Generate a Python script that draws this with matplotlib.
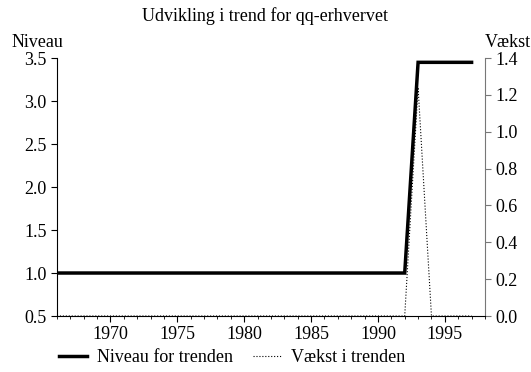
import matplotlib
matplotlib.use("Agg")
import matplotlib.pyplot as plt
from matplotlib.ticker import MultipleLocator

plt.rcParams['font.family'] = ['Liberation Serif', 'DejaVu Serif']

# trend level and its (log) growth per year
years = list(range(1966, 1998))
niveau = [1.0] * 27 + [3.45] * 5
vaekst = [0.0] * 27 + [1.24, 0.0, 0.0, 0.0, 0.0]

fig = plt.figure(figsize=(5.31, 3.72), dpi=100)
ax = fig.add_axes([0.1073, 0.1505, 0.806, 0.6935])
ax2 = ax.twinx()

l1, = ax.plot(years, niveau, color='black', lw=2.5, solid_joinstyle='miter', zorder=3)
l2, = ax2.plot(years, vaekst, color='black', lw=0.8, ls=':')
ax.set_zorder(ax2.get_zorder() + 1)
ax.patch.set_visible(False)

ax.set_xlim(1966, 1998)
ax.set_ylim(0.5, 3.5)
ax2.set_ylim(0.0, 1.4)
ax.xaxis.set_major_locator(MultipleLocator(5))
ax.xaxis.set_minor_locator(MultipleLocator(1))
ax.yaxis.set_major_locator(MultipleLocator(0.5))
ax2.yaxis.set_major_locator(MultipleLocator(0.2))
ax.yaxis.set_major_formatter(plt.FormatStrFormatter('%.1f'))
ax2.yaxis.set_major_formatter(plt.FormatStrFormatter('%.1f'))

for a in (ax, ax2):
    a.spines['top'].set_visible(False)
ax.spines['right'].set_visible(False)
ax2.spines['left'].set_visible(False)
ax2.spines['bottom'].set_visible(False)
ax2.spines['right'].set_color('#777777')

ax.tick_params(axis='both', which='major', labelsize=13, length=4, width=0.8, direction='out')
ax.tick_params(axis='x', which='minor', length=2, width=0.6)
ax2.tick_params(axis='y', labelsize=13, length=4, width=0.8, color='#777777')

fig.text(0.5, 0.958, 'Udvikling i trend for qq-erhvervet', ha='center', va='center', fontsize=13)
fig.text(0.022, 0.885, 'Niveau', ha='left', va='center', fontsize=13)
fig.text(1.0, 0.885, 'Vækst', ha='right', va='center', fontsize=13)

fig.legend([l1, l2], ['Niveau for trenden', 'Vækst i trenden'], loc='center left',
           bbox_to_anchor=(0.080, 0.038), ncol=2, frameon=False, fontsize=13,
           handlelength=1.55, columnspacing=1.15, handletextpad=0.55)

fig.savefig('out.png', dpi=100)
